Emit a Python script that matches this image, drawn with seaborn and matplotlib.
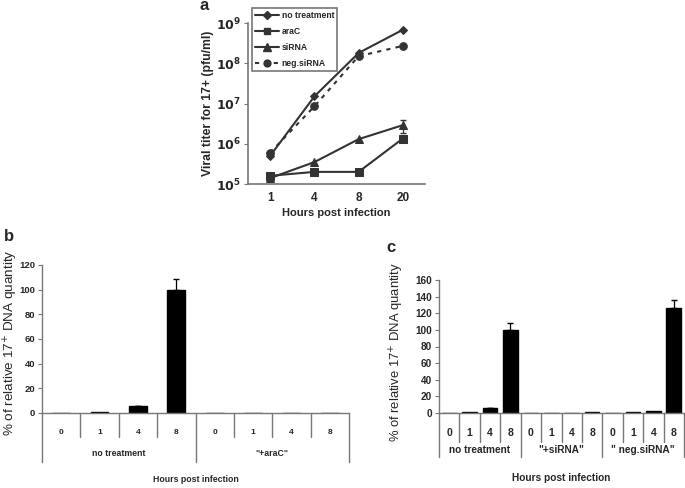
import numpy as np
import pandas as pd
import matplotlib
matplotlib.use("Agg")
import matplotlib.pyplot as plt
import matplotlib.transforms as mtransforms
from matplotlib.lines import Line2D
import seaborn as sns

sns.set_theme(style="white")
plt.rcParams['font.family'] = ['Liberation Sans', 'DejaVu Sans']

# ---------------- data ----------------
hours_a = ["1", "4", "8", "20"]
titer_no_treatment = [5.0e5, 1.5e7, 1.8e8, 6.8e8]
titer_araC = [1.6e5, 2.0e5, 2.0e5, 1.35e6]
titer_siRNA = [1.4e5, 3.5e5, 1.3e6, 2.9e6]
titer_negsiRNA = [6.0e5, 8.5e6, 1.5e8, 2.7e8]
err_siRNA = [0, 0, 0, 1.1e6]
series_names = ["no treatment", "araC", "siRNA", "neg.siRNA"]

hours_b = ["0", "1", "4", "8"]
groups_b = ["no treatment", "\"+araC\""]
dna_b = [0, 1.0, 5.5, 100, 0, 0, 0, 0]
err_b = [0, 0, 0.5, 9, 0, 0, 0, 0]

groups_c = ["no treatment", "\"+siRNA\"", "\" neg.siRNA\""]
dna_c = [0, 1.0, 6.0, 100, 0, 0, 0, 1.0, 0, 1.0, 2.0, 126]
err_c = [0, 0, 0.5, 8, 0, 0, 0, 0, 0, 0, 0, 10]

W, H = 685, 488
fig = plt.figure(figsize=(W / 100, H / 100), dpi=100)


def px_axes(left, top, right, bottom):
    return fig.add_axes([left / W, (H - bottom) / H, (right - left) / W, (bottom - top) / H])


spine_col = "#777777"
line_col = "#333333"

# ---------------- panel a ----------------
axa = px_axes(248, 23, 425, 184)
rows = []
for name, vals in zip(series_names, [titer_no_treatment, titer_araC, titer_siRNA, titer_negsiRNA]):
    for i, v in enumerate(vals):
        rows.append({"pos": i, "titer": v, "treatment": name})
dfa = pd.DataFrame(rows)
markers = {"no treatment": "D", "araC": "s", "siRNA": "^", "neg.siRNA": "o"}
msizes = {"no treatment": 4, "araC": 5.5, "siRNA": 6, "neg.siRNA": 5.5}
for name in series_names:
    sub = dfa[dfa.treatment == name]
    sns.lineplot(data=sub, x="pos", y="titer", ax=axa, color=line_col,
                 marker=markers[name], markersize=msizes[name], linewidth=1.5,
                 dashes=False, linestyle=(0, (2, 2.5)) if name == "neg.siRNA" else "-",
                 markeredgecolor=line_col, legend=False)
e = np.array(err_siRNA)
idx = np.nonzero(e)[0]
axa.errorbar(idx, np.array(titer_siRNA)[idx], yerr=e[idx], fmt="none",
             ecolor=line_col, capsize=2, elinewidth=0.9)
axa.set_yscale("log")
axa.set_ylim(1e5, 1e9)
axa.set_xlim(-0.5, len(hours_a) - 0.5)
axa.set_xticks(range(len(hours_a)))
axa.set_xticklabels(hours_a, fontsize=8.5, fontweight="bold")
axa.set_xticks(np.arange(0.5, len(hours_a) - 0.4, 1), minor=True)
axa.tick_params(axis="x", which="major", length=0, pad=6)
axa.tick_params(axis="x", which="minor", length=4, width=0.8, color="#333333", direction="out")
axa.set_yticks([1e5, 1e6, 1e7, 1e8, 1e9])
axa.set_yticklabels([r"$\mathbf{10^{%d}}$" % k for k in range(5, 10)], fontsize=9)
axa.yaxis.set_minor_locator(matplotlib.ticker.NullLocator())
axa.tick_params(axis="y", which="major", length=3, width=0.8, color=spine_col, pad=2, left=True)
axa.set_xlabel("Hours post infection", fontsize=8, fontweight="bold", labelpad=3)
axa.set_ylabel("Viral titer for 17+ (pfu/ml)", fontsize=8.8, fontweight="bold", va="center")
axa.yaxis.set_label_coords((208 - 248) / 177, 0.5)
for s in ["top", "right"]:
    axa.spines[s].set_visible(False)
for s in ["left", "bottom"]:
    axa.spines[s].set_color(spine_col)
    axa.spines[s].set_linewidth(1.2)

handles = []
for name in series_names:
    handles.append(Line2D([], [], color=line_col, marker=markers[name], markersize=msizes[name] * 0.9,
                          linestyle=(0, (2, 2.5)) if name == "neg.siRNA" else "-", linewidth=1.5))
leg = fig.legend(handles, series_names, loc="upper left",
                 bbox_to_anchor=(252 / W, 1 - 8 / H), frameon=True, fancybox=False,
                 prop={"size": 6.2, "weight": "bold"}, handlelength=2.8, handletextpad=0.3,
                 borderpad=0.35, labelspacing=0.8, borderaxespad=0)
leg.get_frame().set_edgecolor("#555555")
leg.get_frame().set_linewidth(1.2)


# ---------------- bar panels ----------------
def bar_panel(ax, vals, errs, groups, hours, ymax, ystep, width, tick_fs, cat_fs, grp_fs,
              ylab_fs, ylab_x, ylab_yc, inner_depth, outer_depth, cat_y, grp_y, xlab_y):
    n = len(vals)
    df = pd.DataFrame({"pos": [str(i) for i in range(n)], "val": vals})
    sns.barplot(data=df, x="pos", y="val", color="black", width=width, ax=ax,
                saturation=1, errorbar=None, edgecolor="black")
    e = np.array(errs, dtype=float)
    idx = np.nonzero(e)[0]
    v = np.array(vals, dtype=float)
    ax.errorbar(idx, v[idx], yerr=[np.zeros(len(idx)), e[idx]], fmt="none",
                ecolor="black", capsize=2.5, elinewidth=0.9)
    ax.set_xlim(-0.5, n - 0.5)
    ax.set_ylim(0, ymax)
    ax.set_yticks(np.arange(0, ymax + 1, ystep))
    ax.set_yticklabels([str(int(t)) for t in np.arange(0, ymax + 1, ystep)],
                       fontsize=tick_fs, fontweight="bold")
    ax.tick_params(axis="y", length=3, width=0.8, color=spine_col, pad=2, left=True)
    ax.set_xticks([])
    ax.set_xlabel("")
    ax.set_ylabel("% of relative 17$^{+}$ DNA quantity", fontsize=ylab_fs, va="center")
    pos = ax.get_position()
    top_px = H - (pos.y0 + pos.height) * H
    ax.yaxis.set_label_coords((ylab_x - pos.x0 * W) / (pos.width * W),
                              1 - (ylab_yc - top_px) / (pos.height * H))
    for s in ["top", "right"]:
        ax.spines[s].set_visible(False)
    for s in ["left", "bottom"]:
        ax.spines[s].set_color(spine_col)
        ax.spines[s].set_linewidth(1.0)
    hpx = pos.height * H
    tr = mtransforms.blended_transform_factory(ax.transData, ax.transAxes)
    ng = len(groups)
    per = len(hours)
    for i in range(n + 1):
        depth = outer_depth if i % per == 0 else inner_depth
        ax.plot([i - 0.5, i - 0.5], [0, -depth / hpx], transform=tr, color=spine_col,
                lw=1.0, clip_on=False)
    for i in range(n):
        ax.text(i, -cat_y / hpx, hours[i % per], transform=tr, ha="center", va="center",
                fontsize=cat_fs, fontweight="bold")
    for g in range(ng):
        ax.text(g * per + (per - 1) / 2, -grp_y / hpx, groups[g], transform=tr,
                ha="center", va="center", fontsize=grp_fs, fontweight="bold")
    ax.text((n - 1) / 2, -xlab_y / hpx, "Hours post infection", transform=tr,
            ha="center", va="center", fontsize=grp_fs, fontweight="bold")


axb = px_axes(42, 265, 349, 413)
bar_panel(axb, dna_b, err_b, groups_b, hours_b, 120, 20, 0.46, 6.8, 6, 6.3, 9.7, 10.5, 343,
          24, 49, 19, 41, 67)

axc = px_axes(439, 280, 684, 413)
bar_panel(axc, dna_c, err_c, groups_c, hours_b, 160, 20, 0.72, 7.2, 7.5, 7.3, 9.4, 397, 352,
          29, 44, 20, 37, 65)

# panel letters
fig.text(204 / W, 1 - 6 / H, "a", fontsize=12, fontweight="bold", ha="center", va="center")
fig.text(9 / W, 1 - 237 / H, "b", fontsize=12, fontweight="bold", ha="center", va="center")
fig.text(391 / W, 1 - 248 / H, "c", fontsize=12, fontweight="bold", ha="center", va="center")

fig.savefig("out.png", dpi=100)
